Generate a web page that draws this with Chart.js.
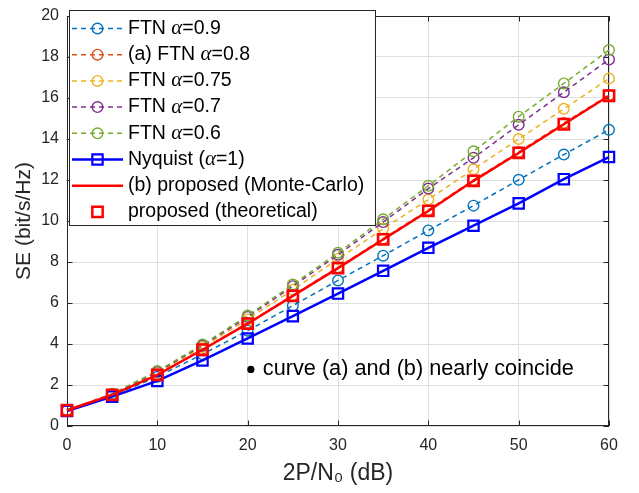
<!DOCTYPE html>
<html>
<head>
<meta charset="utf-8">
<script src="https://cdn.jsdelivr.net/npm/chart.js@4.4.1/dist/chart.umd.min.js"></script>
<style>
  body { margin: 0; background: #fff; }
  #grafico { display: block; }
</style>
</head>
<body>
<canvas id="grafico" width="639" height="493"></canvas>
<script>
// eixo x: 2P/N0 em dB
var snr = [0, 5, 10, 15, 20, 25, 30, 35, 40, 45, 50, 55, 60];

// SE (bit/s/Hz)
var ftn09 = [0.75, 1.48, 2.4, 3.5, 4.65, 5.87, 7.1, 8.31, 9.54, 10.75, 12.01, 13.24, 14.45];
var ftn08 = [0.77, 1.53, 2.5, 3.74, 5.02, 6.38, 7.74, 9.14, 10.54, 12.0, 13.37, 14.78, 16.15];
var ftn075 = [0.77, 1.55, 2.58, 3.85, 5.2, 6.65, 8.15, 9.62, 11.05, 12.52, 14.0, 15.47, 16.95];
var ftn07 = [0.77, 1.56, 2.64, 3.92, 5.32, 6.82, 8.35, 9.95, 11.58, 13.08, 14.69, 16.28, 17.88];
var ftn06 = [0.77, 1.57, 2.68, 3.97, 5.39, 6.9, 8.45, 10.08, 11.72, 13.4, 15.09, 16.71, 18.34];
var nyquist = [0.73, 1.43, 2.2, 3.2, 4.27, 5.36, 6.46, 7.57, 8.69, 9.77, 10.86, 12.04, 13.12];
var propostoMC = [0.77, 1.52, 2.49, 3.72, 4.99, 6.35, 7.7, 9.1, 10.49, 11.96, 13.32, 14.72, 16.11];
var propostoTeo = [0.77, 1.52, 2.49, 3.72, 4.99, 6.35, 7.7, 9.1, 10.49, 11.96, 13.32, 14.72, 16.11];

var nomes = ['FTN α=0.9', '(a) FTN α=0.8', 'FTN α=0.75', 'FTN α=0.7', 'FTN α=0.6',
             'Nyquist (α=1)', '(b) proposed (Monte-Carlo)', 'proposed (theoretical)'];

var xTicks = [0, 10, 20, 30, 40, 50, 60];
var yTicks = [0, 2, 4, 6, 8, 10, 12, 14, 16, 18, 20];

var fonte = '"Liberation Sans", Arial, Helvetica, sans-serif';
var cinza = '#262626';

function pontos(valores) {
    return snr.map(function (x, i) { return { x: x, y: valores[i] }; });
}

function tracejada(nome, valores, cor, ordem) {
    return {
        label: nome, data: pontos(valores), order: ordem,
        borderColor: cor, borderWidth: 1.5, borderDash: [5, 4],
        pointStyle: 'circle', pointRadius: 5.3, pointBorderWidth: 1.4,
        pointBorderColor: cor, pointBackgroundColor: 'rgba(0,0,0,0)',
        fill: false, tension: 0, clip: false, tipo: 'tracejada'
    };
}

var dados = {
    datasets: [
        tracejada(nomes[0], ftn09, '#0072BD', 8),
        tracejada(nomes[1], ftn08, '#D95319', 7),
        tracejada(nomes[2], ftn075, '#EDB120', 6),
        tracejada(nomes[3], ftn07, '#7E2F8E', 5),
        tracejada(nomes[4], ftn06, '#77AC30', 4),
        {
            label: nomes[5], data: pontos(nyquist), order: 3,
            borderColor: '#0000FF', borderWidth: 2.5,
            pointStyle: 'rect', pointRadius: 7.3, pointBorderWidth: 2.2,
            pointBorderColor: '#0000FF', pointBackgroundColor: 'rgba(0,0,0,0)',
            fill: false, tension: 0, clip: false, tipo: 'cheia'
        },
        {
            label: nomes[6], data: pontos(propostoMC), order: 2,
            borderColor: '#FF0000', borderWidth: 2.5, pointRadius: 0,
            fill: false, tension: 0, clip: false, tipo: 'linha'
        },
        {
            label: nomes[7], data: pontos(propostoTeo), order: 1,
            showLine: false, borderColor: '#FF0000',
            pointStyle: 'rect', pointRadius: 7.3, pointBorderWidth: 2.5,
            pointBorderColor: '#FF0000', pointBackgroundColor: 'rgba(0,0,0,0)',
            clip: false, tipo: 'marcador'
        }
    ]
};

// caixa do eixo + ticks para dentro (estilo matlab)
var caixaPlugin = {
    id: 'caixa',
    beforeDatasetsDraw: function (chart) {
        var ctx = chart.ctx, a = chart.chartArea;
        var sx = chart.scales.x, sy = chart.scales.y;
        ctx.save();
        ctx.strokeStyle = cinza;
        ctx.lineWidth = 1;
        ctx.strokeRect(Math.round(a.left) + 0.5, Math.round(a.top) + 0.5,
            Math.round(a.right - a.left) - 1, Math.round(a.bottom - a.top) - 1);
        ctx.beginPath();
        xTicks.forEach(function (v) {
            var px = Math.round(sx.getPixelForValue(v)) + 0.5;
            ctx.moveTo(px, a.bottom); ctx.lineTo(px, a.bottom - 5.5);
            ctx.moveTo(px, a.top); ctx.lineTo(px, a.top + 5.5);
        });
        yTicks.forEach(function (v) {
            var py = Math.round(sy.getPixelForValue(v)) + 0.5;
            ctx.moveTo(a.left, py); ctx.lineTo(a.left + 5.5, py);
            ctx.moveTo(a.right, py); ctx.lineTo(a.right - 5.5, py);
        });
        ctx.stroke();
        ctx.restore();
    },
    afterDatasetsDraw: function (chart) {
        var ctx = chart.ctx;
        var sx = chart.scales.x, sy = chart.scales.y;
        ctx.save();

        // legenda dentro do grafico
        var lx = 69, ly = 10, lw = 306, lh = 215;
        ctx.fillStyle = '#fff';
        ctx.fillRect(lx, ly, lw, lh);
        ctx.strokeStyle = cinza;
        ctx.lineWidth = 1;
        ctx.strokeRect(lx + 0.5, ly + 0.5, lw, lh);

        chart.data.datasets.forEach(function (ds, i) {
            var y = 28.5 + i * 26.2;
            var x1 = lx + 3, x2 = lx + 54, xm = (x1 + x2) / 2;
            ctx.save();
            if (ds.tipo != 'marcador') {
                ctx.strokeStyle = ds.borderColor;
                ctx.lineWidth = ds.borderWidth;
                ctx.setLineDash(ds.borderDash || []);
                ctx.beginPath();
                ctx.moveTo(x1, y); ctx.lineTo(x2, y);
                ctx.stroke();
                ctx.setLineDash([]);
            }
            if (ds.pointRadius > 0) {
                ctx.strokeStyle = ds.pointBorderColor;
                ctx.lineWidth = ds.pointBorderWidth;
                ctx.beginPath();
                if (ds.pointStyle == 'circle') {
                    ctx.arc(xm, y, ds.pointRadius, 0, Math.PI * 2);
                } else {
                    var s = ds.pointRadius * Math.SQRT1_2;
                    ctx.rect(xm - s, y - s, 2 * s, 2 * s);
                }
                ctx.stroke();
            }
            ctx.restore();

            // texto, com alfa em italico
            var partes = ds.label.split('α');
            var tx = lx + 59;
            ctx.fillStyle = '#000';
            ctx.textBaseline = 'middle';
            partes.forEach(function (p, k) {
                ctx.font = '19.5px ' + fonte;
                ctx.fillText(p, tx, y);
                tx += ctx.measureText(p).width;
                if (k < partes.length - 1) {
                    ctx.font = 'italic 21px "Liberation Serif", "DejaVu Serif", serif';
                    ctx.fillText('α', tx, y);
                    tx += ctx.measureText('α').width;
                }
            });
        });

        // anotacao
        var ax = sx.getPixelForValue(20.35), ay = sy.getPixelForValue(2.76);
        ctx.fillStyle = '#000';
        ctx.beginPath();
        ctx.arc(ax, ay, 3.6, 0, Math.PI * 2);
        ctx.fill();
        ctx.font = '21.7px ' + fonte;
        ctx.textBaseline = 'middle';
        ctx.fillText('curve (a) and (b) nearly coincide', ax + 12, ay);

        ctx.restore();
    }
};

var config = {
    type: 'line',
    data: dados,
    options: {
        responsive: false,
        animation: false,
        events: [],
        layout: { padding: { left: 0, right: 30, top: 0, bottom: 0 } },
        plugins: { legend: { display: false }, tooltip: { enabled: false } },
        scales: {
            x: {
                type: 'linear', min: 0, max: 60,
                afterBuildTicks: function (s) { s.ticks = xTicks.map(function (v) { return { value: v }; }); },
                afterFit: function (s) { s.height = 67; },
                ticks: { color: cinza, font: { family: fonte, size: 16, lineHeight: 1 }, padding: 12, maxRotation: 0 },
                grid: { color: '#dfdfdf', drawTicks: false },
                border: { display: false },
                title: {
                    display: true, text: '2P/N₀ (dB)', color: cinza,
                    font: { family: fonte, size: 23 }, padding: { top: 0, bottom: 6 }
                }
            },
            y: {
                min: 0, max: 20,
                afterBuildTicks: function (s) { s.ticks = yTicks.map(function (v) { return { value: v }; }); },
                afterFit: function (s) { s.width = 67; },
                ticks: { color: cinza, font: { family: fonte, size: 16, lineHeight: 1 }, padding: 8 },
                grid: { color: '#dfdfdf', drawTicks: false },
                border: { display: false },
                title: {
                    display: true, text: 'SE (bit/s/Hz)', color: cinza,
                    font: { family: fonte, size: 21 }, padding: { top: 12, bottom: 0 }
                }
            }
        }
    },
    plugins: [caixaPlugin]
};

var grafico = new Chart(document.getElementById('grafico'), config);
</script>
</body>
</html>
